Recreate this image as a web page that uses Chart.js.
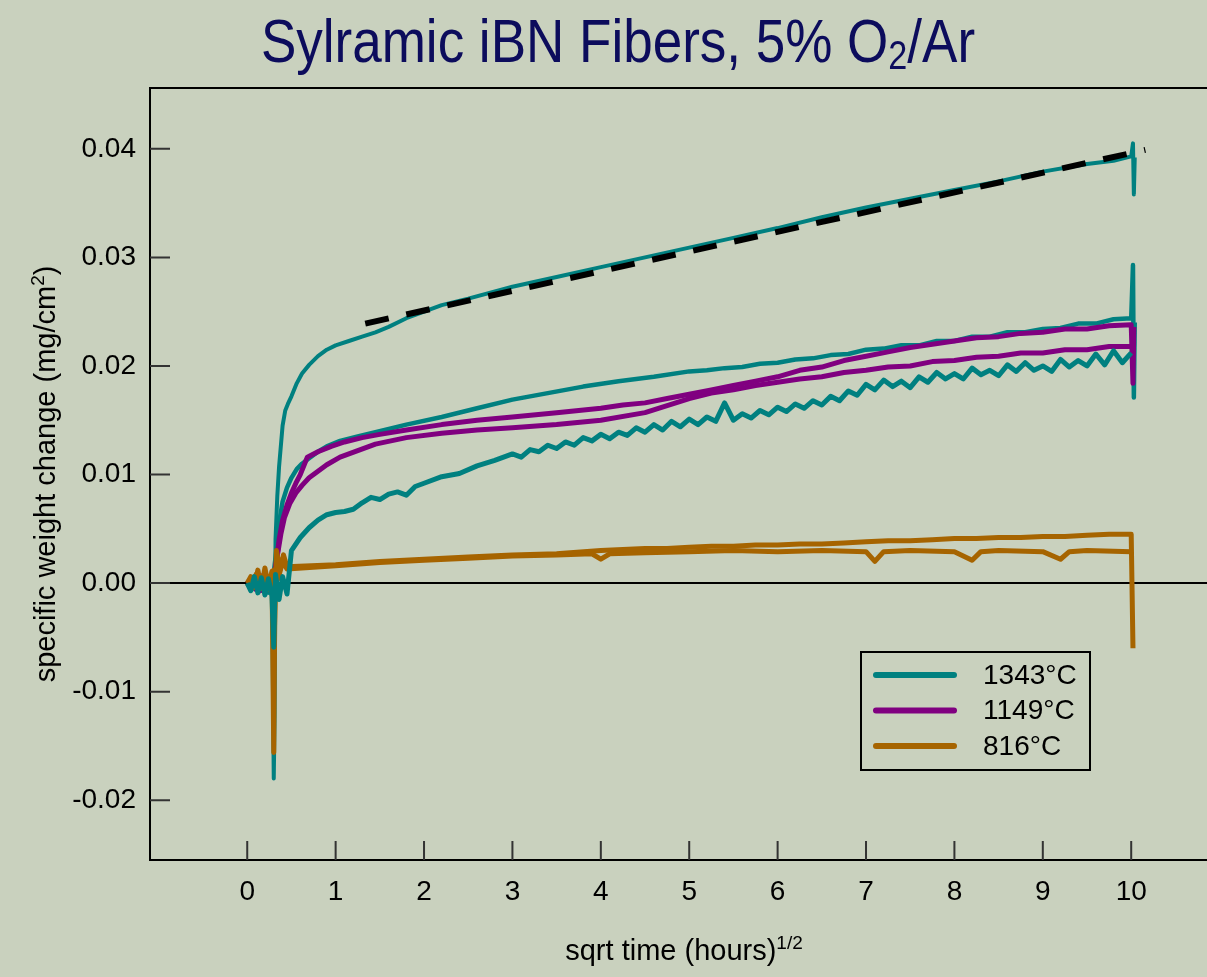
<!DOCTYPE html>
<html>
<head>
<meta charset="utf-8">
<title>Sylramic iBN Fibers, 5% O2/Ar</title>
<script src="https://cdn.jsdelivr.net/npm/chart.js@4.4.1/dist/chart.umd.min.js"></script>
<style>
  html, body { margin: 0; padding: 0; overflow: hidden; background: #c9d1be; }
  canvas { display: block; }
</style>
</head>
<body>
<canvas id="chart" width="1310" height="977"></canvas>
<script>
// data

const xTicks = [0, 1, 2, 3, 4, 5, 6, 7, 8, 9, 10, 11];
const yTicks = [-0.02, -0.01, 0, 0.01, 0.02, 0.03, 0.04];
const yTickLabels = ['-0.02', '-0.01', '0.00', '0.01', '0.02', '0.03', '0.04'];

const legendLabels = ['1343°C', '1149°C', '816°C'];

// 1343°C, upper run
const t1343a = [0, 0.04, 0.08, 0.12, 0.16, 0.2, 0.24, 0.28, 0.3, 0.31, 0.32, 0.34, 0.36, 0.4, 0.43, 0.46, 0.5, 0.56, 0.62, 0.7, 0.8, 0.9, 1.0, 1.15, 1.3, 1.45, 1.6, 1.8, 2.0, 2.2, 2.5, 3.0, 3.5, 4.0, 4.5, 5.0, 5.5, 6.0, 6.5, 7.0, 7.5, 8.0, 8.5, 9.0, 9.5, 9.8, 10.0, 10.02, 10.03, 10.04];
const w1343a = [0, 0.0004, -0.0005, 0.0006, -0.0007, 0.0008, -0.0009, 0.0005, -0.018, -0.012, 0.004, 0.008, 0.0107, 0.0145, 0.0159, 0.0165, 0.0172, 0.0184, 0.0193, 0.0201, 0.0209, 0.0215, 0.0219, 0.0223, 0.0227, 0.0231, 0.0236, 0.0244, 0.0250, 0.0256, 0.0262, 0.0273, 0.0282, 0.0291, 0.0300, 0.0309, 0.0318, 0.0327, 0.0337, 0.0346, 0.0354, 0.0362, 0.0370, 0.0379, 0.0386, 0.0389, 0.0393, 0.0405, 0.0358, 0.0392];

// 1343°C, middle run
const t1343b = [0, 0.05, 0.1, 0.15, 0.2, 0.25, 0.29, 0.33, 0.36, 0.4, 0.45, 0.5, 0.56, 0.62, 0.7, 0.8, 0.9, 1.05, 1.25, 1.45, 1.8, 2.2, 2.6, 3.0, 3.4, 3.8, 4.2, 4.6, 5.0, 5.2, 5.4, 5.6, 5.8, 6.0, 6.2, 6.4, 6.6, 6.8, 7.0, 7.2, 7.4, 7.6, 7.8, 8.0, 8.2, 8.4, 8.6, 8.8, 9.0, 9.2, 9.4, 9.6, 9.8, 10.0, 10.02, 10.03, 10.04];
const w1343b = [0, -0.0006, 0.0007, -0.0004, 0.0009, -0.0008, 0.0003, 0.003, 0.0055, 0.0075, 0.0088, 0.0097, 0.0105, 0.0110, 0.0115, 0.0121, 0.0126, 0.0131, 0.0135, 0.0139, 0.0146, 0.0153, 0.0161, 0.0169, 0.0175, 0.0181, 0.0186, 0.0190, 0.0195, 0.0196, 0.0198, 0.0199, 0.0202, 0.0203, 0.0206, 0.0207, 0.0210, 0.0211, 0.0215, 0.0216, 0.0219, 0.0219, 0.0223, 0.0223, 0.0227, 0.0227, 0.0231, 0.0231, 0.0234, 0.0235, 0.0239, 0.0239, 0.0243, 0.0244, 0.0293, 0.0171, 0.0240];

// 1343°C, lower noisy run
const t1343c = [0, 0.04, 0.08, 0.12, 0.16, 0.2, 0.24, 0.28, 0.3, 0.31, 0.32, 0.36, 0.4, 0.45, 0.5, 0.6, 0.7, 0.8, 0.9, 1.0, 1.1, 1.2, 1.3, 1.4, 1.5, 1.6, 1.7, 1.8, 1.9, 2.0, 2.2, 2.4, 2.6, 2.8,
  3.0, 3.1, 3.2, 3.3, 3.4, 3.5, 3.6, 3.7, 3.8, 3.9, 4.0, 4.1, 4.2, 4.3, 4.4, 4.5, 4.6, 4.7, 4.8, 4.9, 5.0, 5.1, 5.2, 5.3, 5.4, 5.5, 5.6, 5.7, 5.8, 5.9, 6.0, 6.1, 6.2, 6.3, 6.4, 6.5, 6.6, 6.7, 6.8, 6.9,
  7.0, 7.1, 7.2, 7.3, 7.4, 7.5, 7.6, 7.7, 7.8, 7.9, 8.0, 8.1, 8.2, 8.3, 8.4, 8.5, 8.6, 8.7, 8.8, 8.9, 9.0, 9.1, 9.2, 9.3, 9.4, 9.5, 9.6, 9.7, 9.8, 9.9, 10.0];
const w1343c = [0, -0.0007, 0.0006, -0.0009, 0.0005, -0.0011, 0.0004, -0.0012, -0.0059, -0.002, 0.0008, -0.0015, 0.0006, -0.001, 0.0030, 0.0042, 0.0051, 0.0058, 0.0063, 0.0065, 0.0066, 0.0068, 0.0074, 0.0079, 0.0077, 0.0082, 0.0084, 0.0081, 0.0089, 0.0092, 0.0098, 0.0101, 0.0108, 0.0113,
  0.0119, 0.0116, 0.0123, 0.0121, 0.0127, 0.0124, 0.0130, 0.0127, 0.0134, 0.0131, 0.0137, 0.0133, 0.0139, 0.0136, 0.0143, 0.0139, 0.0146, 0.0141, 0.0149, 0.0144, 0.0151, 0.0146, 0.0153, 0.0149, 0.0166, 0.0150, 0.0156, 0.0152, 0.0159, 0.0155, 0.0162, 0.0158, 0.0165, 0.0161, 0.0168, 0.0164, 0.0172, 0.0168, 0.0177, 0.0173,
  0.0183, 0.0178, 0.0187, 0.0181, 0.0186, 0.0180, 0.0190, 0.0185, 0.0194, 0.0188, 0.0193, 0.0188, 0.0198, 0.0192, 0.0196, 0.0191, 0.0201, 0.0195, 0.0203, 0.0196, 0.0200, 0.0195, 0.0206, 0.0199, 0.0205, 0.0200, 0.0211, 0.0201, 0.0214, 0.0203, 0.0212];

// 1149°C, upper run
const t1149a = [0, 0.05, 0.1, 0.15, 0.2, 0.25, 0.3, 0.33, 0.36, 0.4, 0.45, 0.5, 0.55, 0.6, 0.68, 0.8, 0.95, 1.1, 1.3, 1.5, 1.8, 2.2, 2.6, 3.0, 3.5, 4.0, 4.25, 4.5, 4.75, 5.0, 5.25, 5.5, 5.75, 6.0, 6.25, 6.5, 6.75, 7.0, 7.25, 7.5, 7.75, 8.0, 8.25, 8.5, 8.75, 9.0, 9.25, 9.5, 9.75, 10.0, 10.02, 10.03];
const w1149a = [0, 0.0005, -0.0006, 0.0007, -0.0005, 0.0006, -0.0008, 0.002, 0.004, 0.0058, 0.0072, 0.0083, 0.0092, 0.0100, 0.0116, 0.0121, 0.0126, 0.0130, 0.0134, 0.0137, 0.0141, 0.0146, 0.0150, 0.0153, 0.0157, 0.0161, 0.0164, 0.0166, 0.0170, 0.0174, 0.0178, 0.0182, 0.0186, 0.0190, 0.0196, 0.0199, 0.0205, 0.0209, 0.0213, 0.0217, 0.0220, 0.0223, 0.0226, 0.0227, 0.0230, 0.0231, 0.0234, 0.0234, 0.0237, 0.0238, 0.0184, 0.0236];

// 1149°C, lower run
const t1149b = [0, 0.05, 0.1, 0.15, 0.2, 0.25, 0.3, 0.34, 0.38, 0.42, 0.48, 0.55, 0.62, 0.7, 0.8, 0.9, 1.05, 1.25, 1.45, 1.8, 2.2, 2.6, 3.0, 3.5, 4.0, 4.5, 5.0, 5.25, 5.5, 5.75, 6.0, 6.25, 6.5, 6.75, 7.0, 7.25, 7.5, 7.75, 8.0, 8.25, 8.5, 8.75, 9.0, 9.25, 9.5, 9.75, 10.0];
const w1149b = [0, -0.0004, 0.0006, -0.0007, 0.0005, -0.0006, 0.0004, 0.0025, 0.0045, 0.0060, 0.0073, 0.0083, 0.0090, 0.0097, 0.0103, 0.0109, 0.0116, 0.0122, 0.0128, 0.0134, 0.0138, 0.0141, 0.0143, 0.0146, 0.0150, 0.0157, 0.0170, 0.0175, 0.0178, 0.0182, 0.0185, 0.0188, 0.0190, 0.0194, 0.0196, 0.0199, 0.0200, 0.0204, 0.0205, 0.0208, 0.0209, 0.0212, 0.0212, 0.0215, 0.0215, 0.0218, 0.0218];

// 816°C, upper run
const t816a = [0, 0.04, 0.08, 0.12, 0.16, 0.2, 0.24, 0.28, 0.3, 0.31, 0.33, 0.37, 0.41, 0.45, 1.0, 1.5, 2.0, 2.5, 3.0, 3.5, 4.0, 4.5, 4.75, 5.0, 5.25, 5.5, 5.75, 6.0, 6.25, 6.5, 6.75, 7.0, 7.25, 7.5, 7.75, 8.0, 8.25, 8.5, 8.75, 9.0, 9.25, 9.5, 9.75, 10.0, 10.02];
const w816a = [0, 0.0006, -0.0004, 0.0012, -0.0005, 0.0014, -0.0003, 0.0011, -0.0156, -0.004, 0.0030, 0.0012, 0.0026, 0.0015, 0.0017, 0.0020, 0.0022, 0.0024, 0.0026, 0.0027, 0.0030, 0.0032, 0.0032, 0.0033, 0.0034, 0.0034, 0.0035, 0.0035, 0.0036, 0.0036, 0.0037, 0.0038, 0.0039, 0.0039, 0.0040, 0.0041, 0.0041, 0.0042, 0.0042, 0.0043, 0.0043, 0.0044, 0.0045, 0.0045, -0.0060];

// 816°C, lower run
const t816b = [0, 0.05, 0.1, 0.15, 0.2, 0.25, 0.3, 0.35, 0.4, 0.45, 1.0, 1.5, 2.0, 2.5, 3.0, 3.5, 3.9, 4.0, 4.1, 4.5, 5.0, 5.5, 6.0, 6.5, 7.0, 7.1, 7.2, 7.5, 8.0, 8.2, 8.3, 8.5, 9.0, 9.2, 9.3, 9.5, 10.0];
const w816b = [0, -0.0005, 0.0008, -0.0004, 0.0010, -0.0006, 0.0012, 0.0004, 0.0020, 0.0013, 0.0016, 0.0019, 0.0021, 0.0023, 0.0025, 0.0026, 0.0027, 0.0022, 0.0027, 0.0028, 0.0029, 0.0030, 0.0029, 0.0030, 0.0029, 0.0020, 0.0029, 0.0030, 0.0029, 0.0021, 0.0029, 0.0030, 0.0029, 0.0022, 0.0029, 0.0030, 0.0029];

// parabolic fit for 1343°C
const tFit = [1.335, 10.16];
const wFit = [0.0239, 0.0399];

const TEAL = '#008080';
const PURPLE = '#800080';
const BROWN = '#a66400';
const FONT = 'Liberation Sans, Arial, sans-serif';

function pts(xs, ys) {
  return xs.map((x, i) => ({ x: x, y: ys[i] }));
}

function series(xs, ys, color, width) {
  return {
    data: pts(xs, ys),
    borderColor: color,
    borderWidth: width || 5,
    pointRadius: 0,
    tension: 0,
    borderJoinStyle: 'round',
    fill: false
  };
}

const datasets = [
  Object.assign(series(tFit, wFit, '#000000', 6), { borderDash: [24, 18] }),
  series(t1343c, w1343c, TEAL),
  series(t816a, w816a, BROWN),
  series(t816b, w816b, BROWN),
  series(t1149a, w1149a, PURPLE),
  series(t1149b, w1149b, PURPLE),
  series(t1343a, w1343a, TEAL, 4),
  series(t1343b, w1343b, TEAL, 4.5)
];
const legendColors = [TEAL, PURPLE, BROWN];

// pieces of text with sub/superscripts
function drawRich(ctx, parts, x, y, align) {
  let total = 0;
  parts.forEach(p => {
    ctx.font = p.size + 'px ' + FONT;
    total += ctx.measureText(p.text).width;
  });
  let cx = align === 'center' ? x - total / 2 : x;
  parts.forEach(p => {
    ctx.font = p.size + 'px ' + FONT;
    ctx.fillText(p.text, cx, y + (p.dy || 0));
    cx += ctx.measureText(p.text).width;
  });
}

const decor = {
  id: 'decor',
  beforeDatasetsDraw(chart) {
    const { ctx, chartArea, scales } = chart;
    const y0 = scales.y.getPixelForValue(0);
    ctx.save();
    ctx.strokeStyle = '#000';
    ctx.lineWidth = 2;
    ctx.beginPath();
    ctx.moveTo(chartArea.left, y0);
    ctx.lineTo(chartArea.right, y0);
    ctx.stroke();
    ctx.restore();
  },
  afterDraw(chart) {
    const { ctx, chartArea, scales } = chart;
    ctx.save();
    ctx.strokeStyle = '#000';
    ctx.lineWidth = 2;
    // top frame line
    ctx.beginPath();
    ctx.moveTo(chartArea.left, chartArea.top);
    ctx.lineTo(chartArea.right, chartArea.top);
    ctx.stroke();
    // inward ticks
    ctx.strokeStyle = '#333';
    ctx.beginPath();
    yTicks.forEach(v => {
      const py = scales.y.getPixelForValue(v);
      ctx.moveTo(chartArea.left, py);
      ctx.lineTo(chartArea.left + 20, py);
    });
    xTicks.forEach(v => {
      const px = scales.x.getPixelForValue(v);
      ctx.moveTo(px, chartArea.bottom);
      ctx.lineTo(px, chartArea.bottom - 19);
    });
    ctx.stroke();

    // title
    ctx.fillStyle = '#0c0c5c';
    ctx.textBaseline = 'alphabetic';
    ctx.textAlign = 'left';
    ctx.save();
    ctx.translate(618, 62);
    ctx.scale(0.855, 1);
    drawRich(ctx, [
      { text: 'Sylramic iBN Fibers, 5% O', size: 62 },
      { text: '2', size: 40, dy: 7 },
      { text: '/Ar', size: 62 }
    ], 0, 0, 'center');
    ctx.restore();

    // axis titles
    ctx.fillStyle = '#000';
    drawRich(ctx, [
      { text: 'sqrt time (hours)', size: 29 },
      { text: '1/2', size: 19, dy: -11 }
    ], 684, 960, 'center');
    ctx.save();
    ctx.translate(55, 474);
    ctx.rotate(-Math.PI / 2);
    drawRich(ctx, [
      { text: 'specific weight change (mg/cm', size: 29 },
      { text: '2', size: 19, dy: -11 },
      { text: ')', size: 29 }
    ], 0, 0, 'center');
    ctx.restore();

    // legend
    ctx.strokeStyle = '#000';
    ctx.lineWidth = 2;
    ctx.strokeRect(861, 652, 229, 118);
    legendLabels.forEach((label, i) => {
      const ly = 675 + i * 35.5;
      ctx.strokeStyle = legendColors[i];
      ctx.lineWidth = 6;
      ctx.lineCap = 'round';
      ctx.beginPath();
      ctx.moveTo(876, ly);
      ctx.lineTo(954, ly);
      ctx.stroke();
      ctx.fillStyle = '#000';
      ctx.font = '28px ' + FONT;
      ctx.textBaseline = 'middle';
      ctx.fillText(label, 983, ly + 1);
    });
    ctx.restore();
  }
};

new Chart(document.getElementById('chart'), {
  type: 'line',
  data: { datasets: datasets },
  options: {
    responsive: false,
    animation: false,
    devicePixelRatio: 1,
    layout: { padding: { top: 88, right: 2, left: 0, bottom: 0 } },
    plugins: {
      legend: { display: false },
      tooltip: { enabled: false }
    },
    scales: {
      x: {
        type: 'linear',
        min: -1.1,
        max: 12,
        afterFit(scale) { scale.height = 117; },
        afterBuildTicks(scale) { scale.ticks = xTicks.map(v => ({ value: v })); },
        ticks: {
          font: { family: FONT, size: 28 },
          color: '#000',
          padding: 15,
          maxRotation: 0,
          autoSkip: false
        },
        grid: { display: false, drawTicks: false },
        border: { display: true, color: '#000', width: 2 }
      },
      y: {
        type: 'linear',
        min: -0.0255,
        max: 0.0456,
        afterFit(scale) { scale.width = 150; },
        afterBuildTicks(scale) { scale.ticks = yTicks.map(v => ({ value: v })); },
        ticks: {
          font: { family: FONT, size: 28 },
          color: '#000',
          padding: 14,
          callback: (v) => yTickLabels[yTicks.indexOf(v)]
        },
        grid: { display: false, drawTicks: false },
        border: { display: true, color: '#000', width: 2 }
      }
    }
  },
  plugins: [decor]
});
</script>
</body>
</html>
